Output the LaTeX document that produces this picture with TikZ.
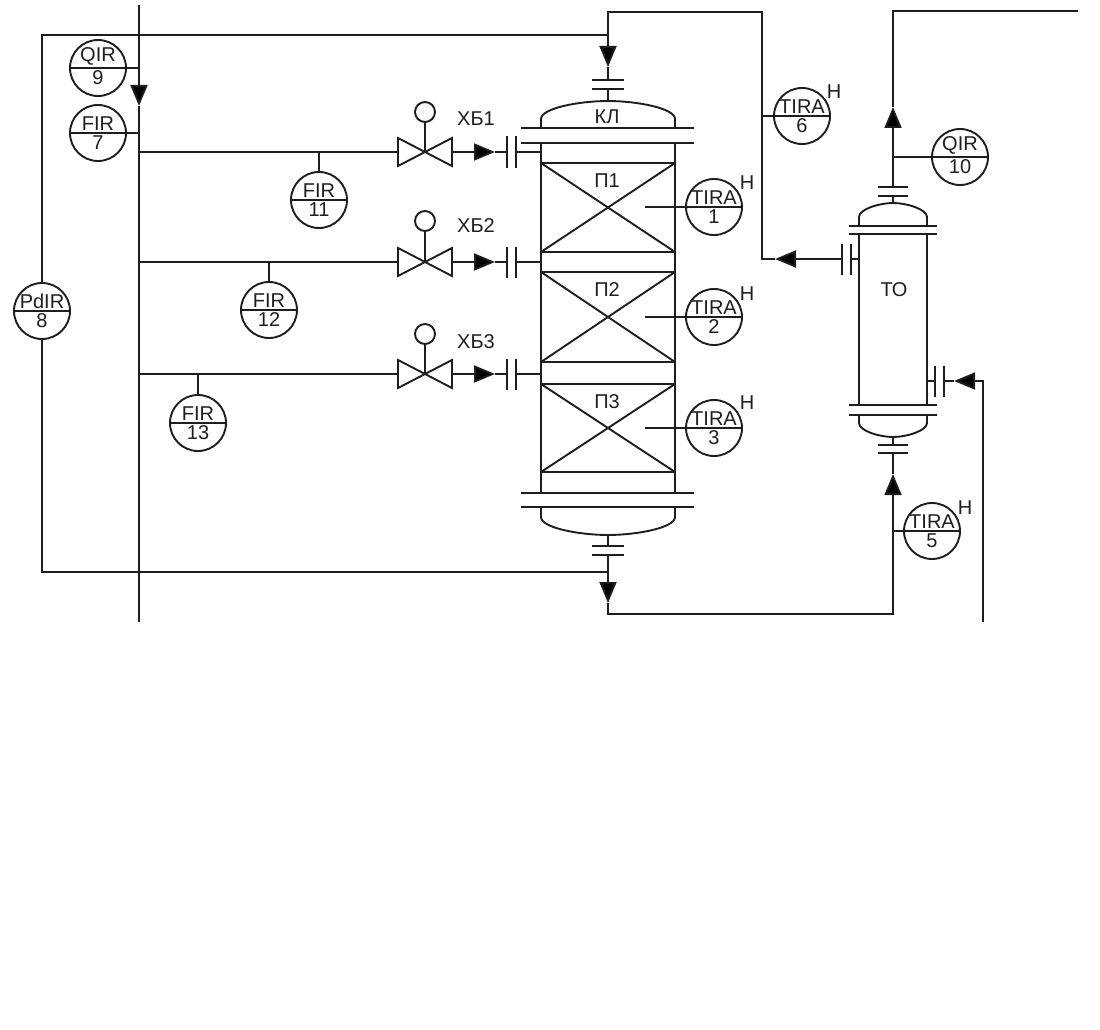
\documentclass[tikz,border=0pt]{standalone}
\usepackage{fontspec}
\setmainfont{Liberation Sans}
\usepackage{tikz}
\usetikzlibrary{arrows.meta, shapes.multipart}
\definecolor{ink}{HTML}{1E1E1E}
\newcommand{\nar}[1]{\makebox[0pt]{#1}}
\tikzset{every picture/.style={line width=1.9pt}}
\tikzset{
    pipe/.style={draw=ink, line join=miter},
    flow/.style={draw=ink, -{Triangle[length=21pt,width=17pt,color=ink]}},
    instr/.style={circle split, draw=ink, text=ink, inner sep=1.5pt, outer sep=0pt, minimum size=56pt, font=\fontsize{20}{20}\selectfont},
    tag/.style={text=ink, inner sep=0pt, font=\fontsize{20}{20}\selectfont},
    bed/.style={draw=ink, inner sep=0pt, outer sep=0pt, minimum width=134pt},
    hand/.style={circle, draw=ink, fill=white, inner sep=0pt, outer sep=0pt, minimum size=20pt}
}

\begin{document}
\begin{tikzpicture}[x=1pt,y=-1pt]
    \useasboundingbox (0,0) rectangle (1100,1030);

    % instruments
    \node[instr] (qir9) at (98,68) {\nar{QIR}\nodepart{lower}\nar{9}};
    \node[instr] (fir7) at (98,133) {\nar{FIR}\nodepart{lower}\nar{7}};
    \node[instr] (pdir8) at (42,311) {\nar{PdIR}\nodepart{lower}\nar{8}};
    \node[instr] (fir11) at (319,200) {\nar{FIR}\nodepart{lower}\nar{11}};
    \node[instr] (fir12) at (269,310) {\nar{FIR}\nodepart{lower}\nar{12}};
    \node[instr] (fir13) at (198,423) {\nar{FIR}\nodepart{lower}\nar{13}};
    \node[instr] (tira1) at (714,207) {\nar{TIRA}\nodepart{lower}\nar{1}};
    \node[instr] (tira2) at (714,317) {\nar{TIRA}\nodepart{lower}\nar{2}};
    \node[instr] (tira3) at (714,428) {\nar{TIRA}\nodepart{lower}\nar{3}};
    \node[instr] (tira5) at (932,531) {\nar{TIRA}\nodepart{lower}\nar{5}};
    \node[instr] (tira6) at (802,116) {\nar{TIRA}\nodepart{lower}\nar{6}};
    \node[instr] (qir10) at (960,157) {\nar{QIR}\nodepart{lower}\nar{10}};

    % limit marks
    \node[tag] (h1) at (747,183) {Н};
    \node[tag] (h2) at (747,294) {Н};
    \node[tag] (h3) at (747,403) {Н};
    \node[tag] (h5) at (965,508) {Н};
    \node[tag] (h6) at (834,92) {Н};

    % packed beds
    \node[bed, minimum height=89pt] (bed1) at (608,207.5) {};
    \node[bed, minimum height=90pt] (bed2) at (608,317) {};
    \node[bed, minimum height=88pt] (bed3) at (608,428) {};
    \draw[pipe] (bed1.north west) -- (bed1.south east);
    \draw[pipe] (bed1.south west) -- (bed1.north east);
    \draw[pipe] (bed2.north west) -- (bed2.south east);
    \draw[pipe] (bed2.south west) -- (bed2.north east);
    \draw[pipe] (bed3.north west) -- (bed3.south east);
    \draw[pipe] (bed3.south west) -- (bed3.north east);

    % apparatus labels
    \node[tag] (kl) at (607,117) {КЛ};
    \node[tag] (p1) at (607,181) {П1};
    \node[tag] (p2) at (607,290) {П2};
    \node[tag] (p3) at (607,402) {П3};
    \node[tag] (to) at (894,290) {ТО};
    \node[tag] (xb1) at (476,119) {ХБ1};
    \node[tag] (xb2) at (476,226) {ХБ2};
    \node[tag] (xb3) at (476,342) {ХБ3};

    % column
    \draw[pipe] (541,128) -- (541,119) .. controls (541,108) and (580,101) .. (608,101) .. controls (636,101) and (675,108) .. (675,119) -- (675,128);
    \draw[pipe] (521,128) -- (694,128);
    \draw[pipe] (521,143) -- (694,143);
    \draw[pipe] (541,143) -- (541,493);
    \draw[pipe] (675,143) -- (675,493);
    \draw[pipe] (521,493) -- (694,493);
    \draw[pipe] (521,507) -- (694,507);
    \draw[pipe] (541,507) -- (541,517) .. controls (541,528) and (580,535) .. (608,535) .. controls (636,535) and (675,528) .. (675,517) -- (675,507);

    % heat exchanger
    \draw[pipe] (859,226) -- (859,217) .. controls (859,209) and (880,203) .. (893,203) .. controls (906,203) and (927,209) .. (927,217) -- (927,226);
    \draw[pipe] (849,226) -- (937,226);
    \draw[pipe] (849,234) -- (937,234);
    \draw[pipe] (859,234) -- (859,405);
    \draw[pipe] (927,234) -- (927,405);
    \draw[pipe] (849,405) -- (937,405);
    \draw[pipe] (849,415) -- (937,415);
    \draw[pipe] (859,415) -- (859,423) .. controls (859,431) and (880,437) .. (893,437) .. controls (906,437) and (927,431) .. (927,423) -- (927,415);

    % points on the lines
    \coordinate (maintop) at (139,5);
    \coordinate (mainarr) at (139,106);
    \coordinate (mainbot) at (139,622);
    \coordinate (b1) at (139,152);
    \coordinate (b2) at (139,262);
    \coordinate (b3) at (139,374);
    \coordinate (v1) at (425,152);
    \coordinate (v2) at (425,262);
    \coordinate (v3) at (425,374);
    \coordinate (v1in) at (398,152);
    \coordinate (v2in) at (398,262);
    \coordinate (v3in) at (398,374);
    \coordinate (v1out) at (452,152);
    \coordinate (v2out) at (452,262);
    \coordinate (v3out) at (452,374);
    \coordinate (a1) at (495,152);
    \coordinate (a2) at (495,262);
    \coordinate (a3) at (495,374);
    \coordinate (f1a) at (507,152);
    \coordinate (f2a) at (507,262);
    \coordinate (f3a) at (507,374);
    \coordinate (f1b) at (516,152);
    \coordinate (f2b) at (516,262);
    \coordinate (f3b) at (516,374);
    \coordinate (w1) at (541,152);
    \coordinate (w2) at (541,262);
    \coordinate (w3) at (541,374);
    \coordinate (coltop) at (608,101);
    \coordinate (colf1) at (608,89);
    \coordinate (colf2) at (608,80);
    \coordinate (colarr) at (608,67);
    \coordinate (coljoin) at (608,35);
    \coordinate (colin) at (608,12);
    \coordinate (colbot) at (608,535);
    \coordinate (colf3) at (608,546);
    \coordinate (colf4) at (608,555);
    \coordinate (coltap) at (608,572);
    \coordinate (colarrb) at (608,603);
    \coordinate (colout) at (608,614);
    \coordinate (pdtop) at (42,35);
    \coordinate (pdbot) at (42,572);
    \coordinate (riser) at (762,12);
    \coordinate (riserb) at (762,259);
    \coordinate (risarr) at (775,259);
    \coordinate (tof5) at (842,259);
    \coordinate (tof6) at (851,259);
    \coordinate (toleft) at (859,259);
    \coordinate (totop) at (893,203);
    \coordinate (tof1) at (893,196);
    \coordinate (tof2) at (893,187);
    \coordinate (toarr) at (893,107);
    \coordinate (tocorner) at (893,11);
    \coordinate (tofree) at (1078,11);
    \coordinate (tobot) at (893,437);
    \coordinate (tof3) at (893,445);
    \coordinate (tof4) at (893,453);
    \coordinate (toarrb) at (893,474);
    \coordinate (tobase) at (893,495);
    \coordinate (tocorb) at (893,614);
    \coordinate (toright) at (927,381);
    \coordinate (tof7) at (935,381);
    \coordinate (tof8) at (944,381);
    \coordinate (coolarr) at (954,381);
    \coordinate (coolcor) at (983,381);
    \coordinate (coolbot) at (983,622);
    \coordinate (t1end) at (645,207);
    \coordinate (t2end) at (645,317);
    \coordinate (t3end) at (645,428);

    % flanges
    \draw[pipe] (colf2) ++(-16,0) -- ++(32,0);
    \draw[pipe] (colf1) ++(-16,0) -- ++(32,0);
    \draw[pipe] (colf3) ++(-16,0) -- ++(32,0);
    \draw[pipe] (colf4) ++(-16,0) -- ++(32,0);
    \draw[pipe] (tof1) ++(-15,0) -- ++(30,0);
    \draw[pipe] (tof2) ++(-15,0) -- ++(30,0);
    \draw[pipe] (tof3) ++(-15,0) -- ++(30,0);
    \draw[pipe] (tof4) ++(-15,0) -- ++(30,0);
    \draw[pipe] (tof5) ++(0,-15.5) -- ++(0,31);
    \draw[pipe] (tof6) ++(0,-15.5) -- ++(0,31);
    \draw[pipe] (tof7) ++(0,-15.5) -- ++(0,31);
    \draw[pipe] (tof8) ++(0,-15.5) -- ++(0,31);
    \draw[pipe] (f1a) ++(0,-15.5) -- ++(0,31);
    \draw[pipe] (f1b) ++(0,-15.5) -- ++(0,31);
    \draw[pipe] (f2a) ++(0,-15.5) -- ++(0,31);
    \draw[pipe] (f2b) ++(0,-15.5) -- ++(0,31);
    \draw[pipe] (f3a) ++(0,-15.5) -- ++(0,31);
    \draw[pipe] (f3b) ++(0,-15.5) -- ++(0,31);

    % header and branches
    \draw[flow] (maintop) -- (mainarr);
    \draw[pipe] (mainarr) -- (mainbot);
    \draw[pipe] (qir9.east) -- (qir9.east -| maintop);
    \draw[pipe] (fir7.east) -- (fir7.east -| maintop);
    \draw[pipe] (b1) -- (v1in);
    \draw[pipe] (b2) -- (v2in);
    \draw[pipe] (b3) -- (v3in);
    \draw[pipe] (fir11.north) -- (fir11.north |- b1);
    \draw[pipe] (fir12.north) -- (fir12.north |- b2);
    \draw[pipe] (fir13.north) -- (fir13.north |- b3);

    % valves
    \node[hand] (hand1) at (425,112) {};
    \node[hand] (hand2) at (425,221) {};
    \node[hand] (hand3) at (425,334) {};
    \draw[pipe] (hand1) -- (v1);
    \draw[pipe] (hand2) -- (v2);
    \draw[pipe] (hand3) -- (v3);
    \draw[pipe] (v1) -- ++(-27,-14) -- ++(0,28) -- cycle;
    \draw[pipe] (v1) -- ++(27,-14) -- ++(0,28) -- cycle;
    \draw[pipe] (v2) -- ++(-27,-14) -- ++(0,28) -- cycle;
    \draw[pipe] (v2) -- ++(27,-14) -- ++(0,28) -- cycle;
    \draw[pipe] (v3) -- ++(-27,-14) -- ++(0,28) -- cycle;
    \draw[pipe] (v3) -- ++(27,-14) -- ++(0,28) -- cycle;
    \draw[flow] (v1out) -- (a1);
    \draw[flow] (v2out) -- (a2);
    \draw[flow] (v3out) -- (a3);
    \draw[pipe] (a1) -- (f1a);
    \draw[pipe] (a2) -- (f2a);
    \draw[pipe] (a3) -- (f3a);
    \draw[pipe] (f1b) -- (w1);
    \draw[pipe] (f2b) -- (w2);
    \draw[pipe] (f3b) -- (w3);

    % pipes round the column
    \draw[flow] (coljoin) -- (colarr);
    \draw[pipe] (colarr) -- (colf2);
    \draw[pipe] (colf1) -- (coltop);
    \draw[pipe] (coljoin) -- (pdtop) -- (pdir8.north);
    \draw[pipe] (pdir8.south) -- (pdbot) -- (coltap);
    \draw[pipe] (colbot) -- (colf3);
    \draw[flow] (colf4) -- (colarrb);
    \draw[pipe] (colarrb) -- (colout) -- (tocorb) -- (tobase);
    \draw[flow] (tobase) -- (toarrb);
    \draw[pipe] (toarrb) -- (tof4);
    \draw[pipe] (tof3) -- (tobot);
    \draw[pipe] (tira5.west) -- (tira5.west -| tobase);

    % heat exchanger lines
    \draw[pipe] (totop) -- (tof1);
    \draw[flow] (tof2) -- (toarr);
    \draw[pipe] (toarr) -- (tocorner) -- (tofree);
    \draw[pipe] (qir10.west) -- (qir10.west -| tof2);
    \draw[pipe] (toleft) -- (tof6);
    \draw[flow] (tof5) -- (risarr);
    \draw[pipe] (risarr) -- (riserb) -- (riser) -- (colin) -- (coljoin);
    \draw[pipe] (tira6.west) -- (tira6.west -| riser);
    \draw[pipe] (toright) -- (tof7);
    \draw[flow] (coolbot) -- (coolcor) -- (coolarr);
    \draw[pipe] (coolarr) -- (tof8);

    \draw[pipe] (t1end) -- (tira1.west);
    \draw[pipe] (t2end) -- (tira2.west);
    \draw[pipe] (t3end) -- (tira3.west);
\end{tikzpicture}
\end{document}
